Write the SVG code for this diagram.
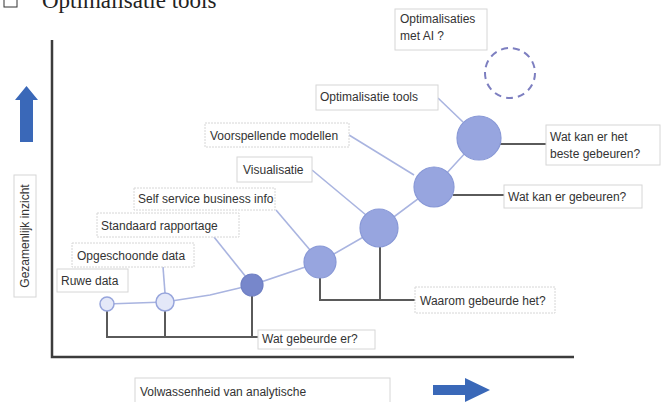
<svg xmlns="http://www.w3.org/2000/svg" width="664" height="402" viewBox="0 0 664 402">
<defs>
<style>
.lbl{font-family:"Liberation Sans",Arial,sans-serif;font-size:12px;fill:#333}
.box{fill:#fff;stroke:#d6d6d6;stroke-width:1}
.dot{fill:#fff;stroke:#d6d6d6;stroke-width:1;stroke-dasharray:2 1}
.ax{stroke:#3c3c3c;stroke-width:2.5;fill:none}
.br{stroke:#5a5a5a;stroke-width:2;fill:none}
.ln{stroke:#a9b4e0;stroke-width:1.6;fill:none}
.big{fill:#97a5df;stroke:#8898d6;stroke-width:1.2}
.small{fill:#e4e8f8;stroke:#97a5dc;stroke-width:1.5}
.arrow{fill:#3a68b8}
</style>
</defs>
<rect width="664" height="402" fill="#fff"/>
<g id="header">
<rect x="4" y="-7" width="13" height="14" fill="none" stroke="#333" stroke-width="1"/>
<text x="42" y="8" font-family="Liberation Serif,'Times New Roman',serif" font-size="23" fill="#222">Optimalisatie tools</text>
</g>
<g id="axes">
<path class="ax" d="M52,40 V357 H574"/>
<path class="arrow" d="M26.5,86 L38,100 L33,100 L33,142 L20,142 L20,100 L15,100 Z"/>
<path class="arrow" d="M433,385 L465,385 L465,378 L490,390 L465,402 L465,395 L433,395 Z"/>
</g>
<g id="y-label">
<rect class="box" x="14" y="175" width="22" height="122"/>
<text class="lbl" transform="translate(29,236) rotate(-90)" text-anchor="middle" font-size="11">Gezamenlijk inzicht</text>
</g>
<g id="x-label">
<rect class="box" x="135" y="378" width="255" height="28"/>
<text class="lbl" x="140" y="396">Volwassenheid van analytische</text>
</g>
<g id="connectors">
<polyline class="ln" points="107,304 165,302 210,295 252,285 320,262 379,228 434,187 479,138"/>
<line class="ln" x1="163" y1="267" x2="165" y2="293"/>
<line class="ln" x1="214" y1="237" x2="246" y2="277"/>
<line class="ln" x1="276" y1="210" x2="310" y2="250"/>
<line class="ln" x1="312" y1="170" x2="366" y2="215"/>
<line class="ln" x1="349" y1="135" x2="414" y2="175"/>
<line class="ln" x1="438" y1="98" x2="463" y2="122"/>
<path class="br" d="M107,311 V337 H258 M165,311 V337 M252,296 V337"/>
<path class="br" d="M320,278 V300 H415 M380,247 V300"/>
<path class="br" d="M453,195 H504"/>
<path class="br" d="M500,144 H546"/>
</g>
<g id="n-ruwe">
<circle class="small" cx="107" cy="304" r="7"/>
<rect class="box" x="57" y="269" width="71" height="23"/>
<text class="lbl" x="61" y="285">Ruwe data</text>
</g>
<g id="n-opgeschoonde">
<circle class="small" cx="165" cy="302" r="9"/>
<rect class="dot" x="72" y="243" width="122" height="24"/>
<text class="lbl" x="77" y="260">Opgeschoonde data</text>
</g>
<g id="n-standaard">
<circle cx="252" cy="285" r="11" fill="#7787cb" stroke="#7080c4" stroke-width="1.2"/>
<rect class="dot" x="97" y="213" width="142" height="24"/>
<text class="lbl" x="101" y="230">Standaard rapportage</text>
</g>
<g id="n-selfservice">
<circle class="big" cx="320" cy="262" r="16"/>
<rect class="dot" x="134" y="188" width="141" height="22"/>
<text class="lbl" x="138" y="203">Self service business info</text>
</g>
<g id="n-visualisatie">
<circle class="big" cx="379" cy="228" r="19"/>
<rect class="box" x="237" y="157" width="75" height="25"/>
<text class="lbl" x="243" y="174">Visualisatie</text>
</g>
<g id="n-voorspellende">
<circle class="big" cx="434" cy="187" r="20"/>
<rect class="dot" x="205" y="123" width="144" height="24"/>
<text class="lbl" x="210" y="140">Voorspellende modellen</text>
</g>
<g id="n-optimalisatie">
<circle class="big" cx="479" cy="138" r="22"/>
<rect class="box" x="316" y="85" width="122" height="25"/>
<text class="lbl" x="320" y="101">Optimalisatie tools</text>
</g>
<g id="n-ai">
<circle cx="510" cy="73" r="25" fill="none" stroke="#7d7fc0" stroke-width="2" stroke-dasharray="7 5"/>
<rect class="box" x="395" y="9" width="92" height="41"/>
<text class="lbl" x="400" y="23">Optimalisaties</text>
<text class="lbl" x="400" y="40">met AI ?</text>
</g>
<g id="q-beste">
<rect class="box" x="546" y="125" width="114" height="40"/>
<text class="lbl" x="550" y="141">Wat kan er het</text>
<text class="lbl" x="550" y="158">beste gebeuren?</text>
</g>
<g id="q-kan">
<rect class="box" x="504" y="185" width="138" height="23"/>
<text class="lbl" x="508" y="201">Wat kan er gebeuren?</text>
</g>
<g id="q-waarom">
<rect class="dot" x="415" y="287" width="140" height="26"/>
<text class="lbl" x="420" y="305">Waarom gebeurde het?</text>
</g>
<g id="q-wat">
<rect class="box" x="258" y="330" width="117" height="19"/>
<text class="lbl" x="262" y="343">Wat gebeurde er?</text>
</g>
</svg>
